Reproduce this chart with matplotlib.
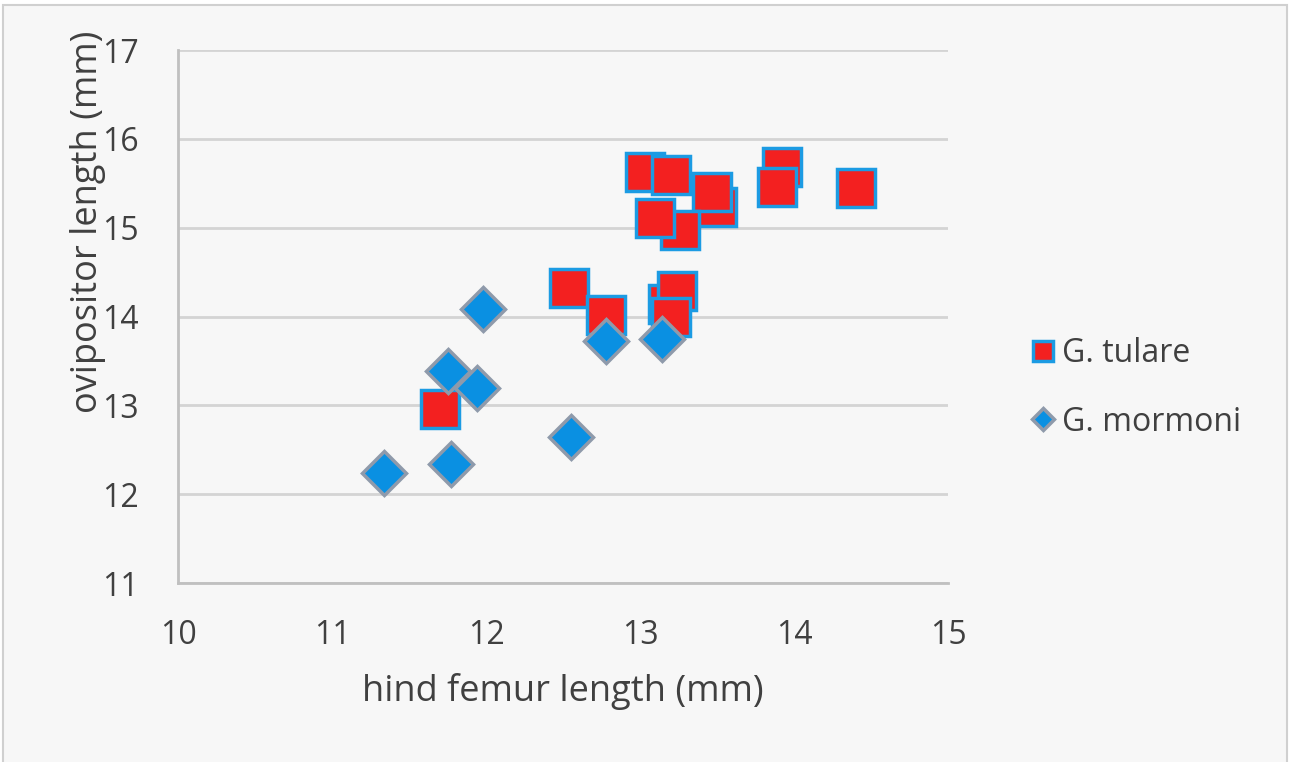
import matplotlib.pyplot as plt
from matplotlib.patches import Rectangle

plt.rcParams['font.family'] = ['Open Sans', 'DejaVu Sans']

# G. tulare (squares), in drawing order (later ones sit on top)
tulare_x = [13.50, 13.47, 13.26, 13.10, 13.03, 13.20, 13.92, 13.89, 14.40,
            12.54, 12.78, 13.18, 13.24, 13.20, 11.70]
tulare_y = [15.23, 15.40, 14.97, 15.11, 15.63, 15.59, 15.68, 15.46, 15.45,
            14.32, 14.02, 14.14, 14.29, 14.00, 12.96]

# G. mormoni (diamonds)
mormoni_x = [11.98, 11.75, 11.94, 11.34, 11.77, 12.55, 12.78, 13.14]
mormoni_y = [14.08, 13.39, 13.19, 12.24, 12.34, 12.64, 13.72, 13.75]

x_ticks = [10, 11, 12, 13, 14, 15]
y_ticks = [11, 12, 13, 14, 15, 16, 17]

fig = plt.figure(figsize=(12.9, 7.62), dpi=100, facecolor='white')
# chart area background with thin border
fig.patches.append(Rectangle((3 / 1290, -0.01), 1284 / 1290, 1 - 5 / 762 + 0.01,
                             transform=fig.transFigure, facecolor='#f7f7f7',
                             edgecolor='#d0d0d0', linewidth=1.5, zorder=-1))

ax = fig.add_axes([178 / 1290, 1 - 583 / 762, 770 / 1290, 533 / 762])
ax.set_facecolor('#f7f7f7')

ax.plot(tulare_x, tulare_y, linestyle='none', marker='s', markersize=28,
        markerfacecolor='#f32020', markeredgecolor='#1c9be3', markeredgewidth=2.5,
        label='G. tulare', zorder=3)
ax.plot(mormoni_x, mormoni_y, linestyle='none', marker='D', markersize=22,
        markerfacecolor='#0a90e2', markeredgecolor='#8f9aab', markeredgewidth=2.5,
        label='G. mormoni', zorder=4)

ax.set_xlim(10, 15)
ax.set_ylim(11, 17)
ax.set_xticks(x_ticks)
ax.set_yticks(y_ticks)
ax.tick_params(length=0, labelsize=23, colors='#404040')
ax.tick_params(axis='x', pad=26)
ax.tick_params(axis='y', pad=28)
ax.yaxis.grid(True, color='#d4d4d4', linewidth=2)
ax.set_axisbelow(True)
for s in ['top', 'right']:
    ax.spines[s].set_visible(False)
for s in ['left', 'bottom']:
    ax.spines[s].set_color('#c0c0c0')
    ax.spines[s].set_linewidth(2)

fig.text(563 / 1290, 1 - 692 / 762, 'hind femur length (mm)', ha='center', va='center',
         fontsize=26, color='#404040')
fig.text(88 / 1290, 1 - 222 / 762, 'ovipositor length (mm)', ha='center', va='center',
         rotation=90, fontsize=26, color='#404040')

leg = fig.legend(loc='center left', bbox_to_anchor=(1000 / 1290, 1 - 388 / 762),
                 frameon=False, fontsize=23, markerscale=0.5, handletextpad=0.15,
                 labelspacing=1.1, handlelength=0.9, labelcolor='#404040')

fig.savefig('out.png', dpi=100, facecolor='white')
